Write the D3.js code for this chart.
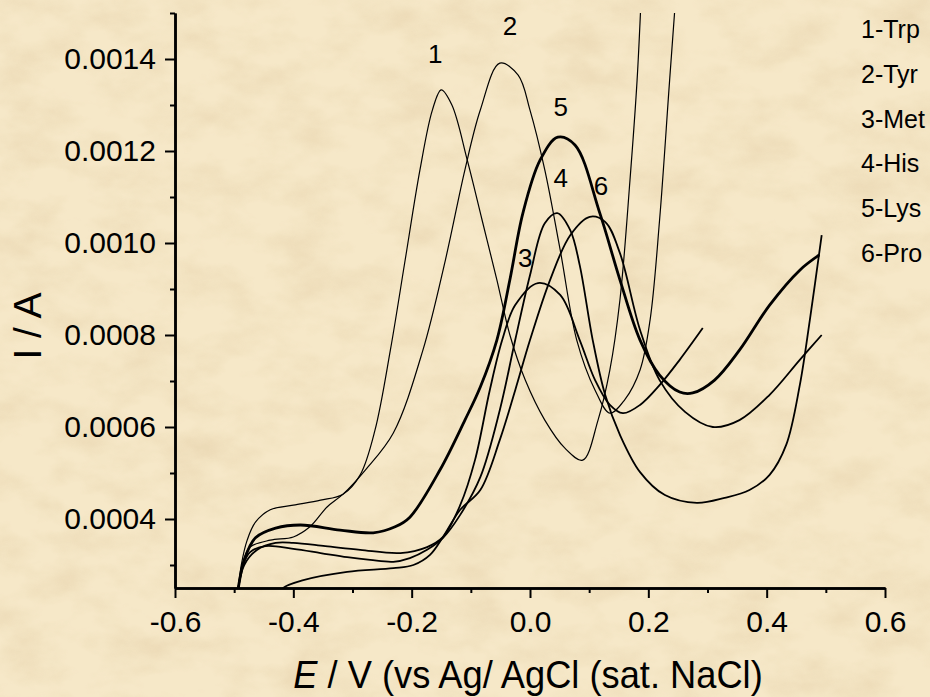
<!DOCTYPE html>
<html>
<head>
<meta charset="utf-8">
<script src="https://cdn.jsdelivr.net/npm/d3@7"></script>
<style>
  body { margin: 0; background: #f2e2bd; }
  svg { display: block; }
  text { font-family: "Liberation Sans", Arial, sans-serif; fill: #000; }
</style>
</head>
<body>
<div id="chart"></div>
<script>
// 1: DATA  (E in V, I in A)
const trp = [
  [-0.497, 0.00020], [-0.493, 0.00025], [-0.488, 0.00030], [-0.478, 0.000354], [-0.464, 0.000393],
  [-0.439, 0.00042], [-0.400, 0.00043], [-0.354, 0.000441], [-0.316, 0.000454], [-0.287, 0.000496],
  [-0.262, 0.000593], [-0.236, 0.000767], [-0.211, 0.000963], [-0.186, 0.001159], [-0.165, 0.001289],
  [-0.150, 0.001333], [-0.132, 0.00130], [-0.106, 0.00118], [-0.081, 0.00105], [-0.056, 0.00092],
  [-0.034, 0.00080], [-0.008, 0.000702], [0.025, 0.000615], [0.059, 0.000554], [0.089, 0.000528],
  [0.115, 0.000615], [0.135, 0.000724], [0.152, 0.000876], [0.169, 0.001137], [0.181, 0.001354],
  [0.190, 0.00160]
];
const tyr = [
  [-0.497, 0.00020], [-0.493, 0.00025], [-0.484, 0.000311], [-0.473, 0.000339], [-0.439, 0.000354],
  [-0.400, 0.000361], [-0.372, 0.000383], [-0.343, 0.000426], [-0.316, 0.000454], [-0.278, 0.000507],
  [-0.231, 0.000587], [-0.181, 0.000767], [-0.143, 0.000963], [-0.110, 0.001159], [-0.084, 0.001289],
  [-0.051, 0.001391], [-0.020, 0.001365], [0.000, 0.001289], [0.025, 0.001159], [0.051, 0.000985],
  [0.079, 0.000789], [0.110, 0.000680], [0.135, 0.000630], [0.160, 0.000659], [0.186, 0.000724],
  [0.203, 0.000833], [0.219, 0.001050], [0.236, 0.001354], [0.250, 0.00160]
];
const met = [
  [-0.497, 0.00020], [-0.493, 0.00025], [-0.483, 0.00030], [-0.461, 0.000333], [-0.430, 0.000348],
  [-0.400, 0.000348], [-0.346, 0.000341], [-0.287, 0.000333], [-0.219, 0.000326], [-0.174, 0.000339],
  [-0.147, 0.000361], [-0.118, 0.00043], [-0.093, 0.000528], [-0.068, 0.00068], [-0.047, 0.000789],
  [-0.025, 0.000865], [0.0135, 0.000913], [0.051, 0.000887], [0.084, 0.000789], [0.110, 0.000702],
  [0.135, 0.000648], [0.157, 0.00063], [0.186, 0.000648], [0.219, 0.000691], [0.253, 0.000746],
  [0.292, 0.000815]
];
const his = [
  [-0.497, 0.00020], [-0.493, 0.00025], [-0.485, 0.00030], [-0.473, 0.000328], [-0.447, 0.000341],
  [-0.400, 0.000335], [-0.354, 0.000326], [-0.309, 0.000317], [-0.270, 0.000311], [-0.231, 0.000307],
  [-0.203, 0.000315], [-0.174, 0.000333], [-0.147, 0.000359], [-0.118, 0.000409], [-0.084, 0.000491],
  [-0.051, 0.000637], [-0.025, 0.000789], [0.000, 0.000930], [0.025, 0.001043], [0.046, 0.001065],
  [0.068, 0.001028], [0.084, 0.000952], [0.106, 0.000789], [0.127, 0.00067], [0.152, 0.000583],
  [0.186, 0.000502], [0.228, 0.000452], [0.282, 0.000435], [0.329, 0.000446], [0.371, 0.000463],
  [0.405, 0.000496], [0.433, 0.000561], [0.456, 0.000691], [0.473, 0.000833], [0.493, 0.001017]
];
const lys = [
  [-0.497, 0.00020], [-0.493, 0.00025], [-0.483, 0.000311], [-0.464, 0.000359], [-0.430, 0.00038],
  [-0.388, 0.000387], [-0.321, 0.000376], [-0.265, 0.00037], [-0.228, 0.000383], [-0.203, 0.000404],
  [-0.152, 0.000507], [-0.110, 0.000615], [-0.084, 0.000687], [-0.056, 0.000789], [-0.034, 0.00092],
  [-0.012, 0.001065], [0.017, 0.00118], [0.047, 0.00123], [0.076, 0.001213], [0.118, 0.001065],
  [0.152, 0.00092], [0.186, 0.000789], [0.219, 0.000713], [0.253, 0.000676], [0.275, 0.000674],
  [0.312, 0.000702], [0.354, 0.000767], [0.405, 0.000865], [0.456, 0.000941], [0.489, 0.000974]
];
const pro = [
  [-0.420, 0.00024], [-0.417, 0.00025], [-0.383, 0.000267], [-0.309, 0.000285], [-0.231, 0.000293],
  [-0.197, 0.00030], [-0.169, 0.000322], [-0.147, 0.000361], [-0.118, 0.00042], [-0.084, 0.000463],
  [-0.051, 0.000572], [-0.025, 0.00068], [0.000, 0.000789], [0.034, 0.00092], [0.068, 0.001017],
  [0.101, 0.001057], [0.127, 0.001046], [0.152, 0.000978], [0.186, 0.000811], [0.219, 0.000702],
  [0.262, 0.000633], [0.309, 0.00060], [0.354, 0.000615], [0.405, 0.00067], [0.456, 0.000746],
  [0.493, 0.0008]
];

const curves = [trp, tyr, met, his, lys, pro];
const legendNames = ["1-Trp", "2-Tyr", "3-Met", "4-His", "5-Lys", "6-Pro"];
const peakNumbers = ["1", "2", "3", "4", "5", "6"];
// where each peak number sits (E, I)
const peakNumberE = [-0.160, -0.034, -0.008, 0.052, 0.052, 0.120];
const peakNumberI = [0.001391, 0.001452, 0.000948, 0.001122, 0.001276, 0.001104];

const xTicks = [-0.6, -0.4, -0.2, 0, 0.2, 0.4, 0.6];
const xMinor = [-0.5, -0.3, -0.1, 0.1, 0.3, 0.5];
const yTicks = [0.0004, 0.0006, 0.0008, 0.0010, 0.0012, 0.0014];
const yMinor = [0.0003, 0.0005, 0.0007, 0.0009, 0.0011, 0.0013, 0.0015];

// line styles, same order as curves
const curveWidths = [1.2, 1.2, 1.8, 1.8, 2.8, 1.8];

// 2: SVG SETUP
const margin = { top: 13, right: 45, bottom: 109, left: 175 };
const width = 930 - margin.left - margin.right;
const height = 697 - margin.top - margin.bottom;

const svg = d3.select("#chart")
    .append("svg")
    .attr("width", width + margin.left + margin.right)
    .attr("height", height + margin.top + margin.bottom);

const defs = svg.append("defs");

// parchment look
const paper = defs.append("filter").attr("id", "paper")
    .attr("x", 0).attr("y", 0).attr("width", "100%").attr("height", "100%");
paper.append("feTurbulence")
    .attr("type", "fractalNoise")
    .attr("baseFrequency", "0.018 0.03")
    .attr("numOctaves", 4)
    .attr("seed", 7);
paper.append("feColorMatrix")
    .attr("type", "matrix")
    .attr("values", "0 0 0 0 0.84  0 0 0 0 0.70  0 0 0 0 0.47  2.0 0 0 0 -0.78");

svg.append("rect")
    .attr("width", 930).attr("height", 697)
    .attr("fill", "#f6e8c8");
svg.append("rect")
    .attr("width", 930).attr("height", 697)
    .attr("filter", "url(#paper)")
    .attr("opacity", 0.9);

defs.append("clipPath").attr("id", "plotClip")
    .append("rect")
    .attr("width", width).attr("height", height);

const g = svg.append("g")
    .attr("transform", `translate(${margin.left},${margin.top})`);

// 3: SCALES
const x = d3.scaleLinear().domain([-0.6, 0.6]).range([0, width]);
const y = d3.scaleLinear().domain([0.00025, 0.0015]).range([height, 0]);

// 4: CURVES
const line = d3.line()
    .x(d => x(d[0]))
    .y(d => y(d[1]))
    .curve(d3.curveCatmullRom.alpha(0.5));

g.append("g")
    .attr("clip-path", "url(#plotClip)")
    .selectAll("path")
    .data(curves)
    .enter()
    .append("path")
    .attr("d", line)
    .attr("fill", "none")
    .attr("stroke", "#000")
    .attr("stroke-width", (d, i) => curveWidths[i])
    .attr("stroke-linejoin", "round");

// 5: AXES
function styleAxis(sel) {
    sel.attr("font-family", null).attr("font-size", null);
    sel.select(".domain").attr("stroke-width", 2.5);
    sel.selectAll(".tick line").attr("stroke-width", 2);
    sel.selectAll(".tick text").style("font-size", "30px");
}

g.append("g")
    .attr("transform", `translate(0,${height})`)
    .call(d3.axisBottom(x).tickValues(xMinor).tickFormat("").tickSize(5).tickSizeOuter(0))
    .call(styleAxis);
g.append("g")
    .attr("transform", `translate(0,${height})`)
    .call(d3.axisBottom(x).tickValues(xTicks).tickFormat(d => d.toFixed(1))
        .tickSize(10).tickSizeOuter(0).tickPadding(13))
    .call(styleAxis);

g.append("g")
    .call(d3.axisLeft(y).tickValues(yMinor).tickFormat("").tickSize(5).tickSizeOuter(0))
    .call(styleAxis);
g.append("g")
    .call(d3.axisLeft(y).tickValues(yTicks).tickFormat(d3.format(".4f"))
        .tickSize(10).tickSizeOuter(0).tickPadding(9))
    .call(styleAxis);

// 6: LABELS
// x title
const xTitle = g.append("text")
    .attr("text-anchor", "middle")
    .attr("transform", `translate(${width / 2 - 2},${height + 100}) scale(0.93,1)`)
    .style("font-size", "39px");
xTitle.append("tspan").style("font-style", "italic").text("E");
xTitle.append("tspan").text(" / V (vs Ag/ AgCl (sat. NaCl)");

// y title
g.append("text")
    .attr("text-anchor", "middle")
    .attr("transform", `translate(${41 - margin.left},${326 - margin.top}) rotate(-90)`)
    .style("font-size", "39px")
    .text("I / A");

// peak numbers
g.selectAll(".peak-num")
    .data(peakNumbers)
    .enter()
    .append("text")
    .attr("class", "peak-num")
    .attr("text-anchor", "middle")
    .attr("x", (d, i) => x(peakNumberE[i]))
    .attr("y", (d, i) => y(peakNumberI[i]))
    .style("font-size", "26px")
    .text(d => d);

// legend (plain text list at the right)
svg.selectAll(".legend")
    .data(legendNames)
    .enter()
    .append("text")
    .attr("class", "legend")
    .attr("x", 861)
    .attr("y", (d, i) => 38 + i * 44.8)
    .style("font-size", "25px")
    .text(d => d);
</script>
</body>
</html>
